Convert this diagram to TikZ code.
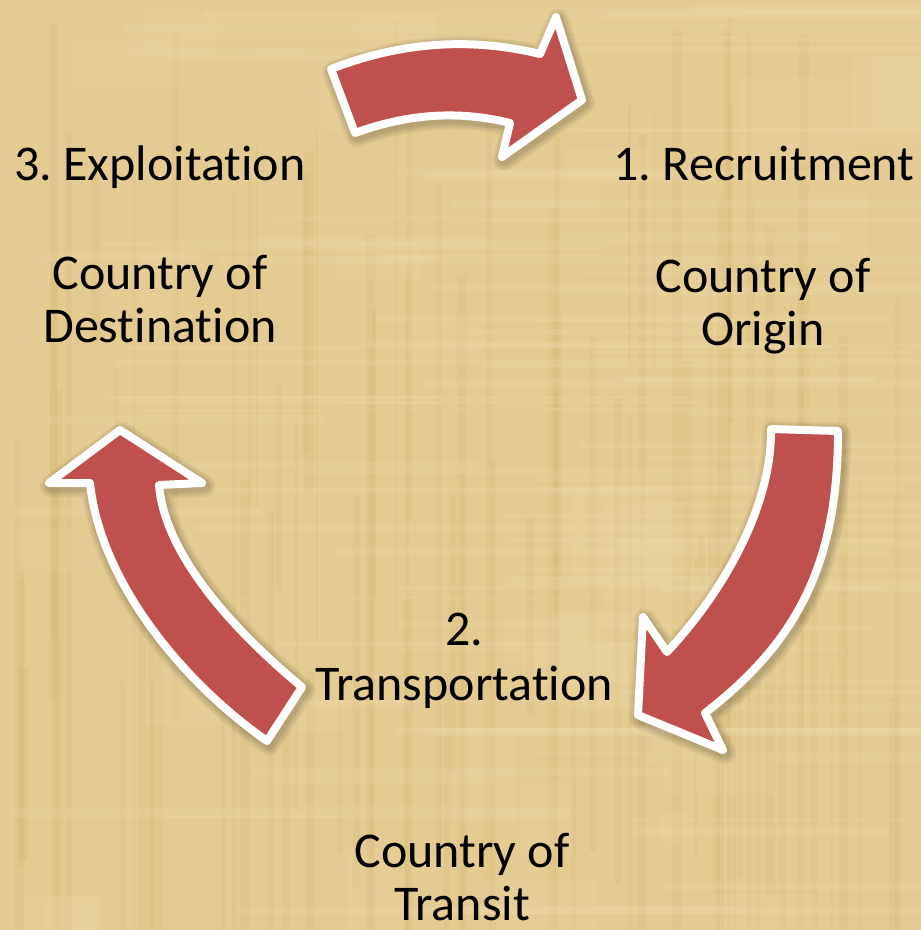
\documentclass[tikz,border=0pt]{standalone}
\usepackage{fontspec}
\setmainfont{Carlito}[Ligatures=CommonOff]
\frenchspacing
\definecolor{papyrus}{HTML}{E4CB91}
\definecolor{papyruslight}{HTML}{F0DCAE}
\definecolor{papyrusdark}{HTML}{D2B46E}
\definecolor{arrowred}{HTML}{C0504D}
\tikzset{
  softshadow/.style={preaction={draw=black, fill=black, opacity=0.05, line width=#1,
     line join=round, transform canvas={shift={(2pt,-3pt)}}}},
  cyclearrow/.style={softshadow=22pt, softshadow=18pt, softshadow=14pt, softshadow=11pt,
    fill=arrowred, draw=white, line width=8pt, line join=round},
  label/.style={font=\fontsize{50}{54}\selectfont, text=black, inner sep=0pt, anchor=base}
}
\begin{document}
\begin{tikzpicture}[x=1pt,y=-1pt]
\fill[papyrus] (0,0) rectangle (921,930);
\useasboundingbox (0,0) rectangle (921,930);
% papyrus fibres
\pgfmathsetseed{11}
\begin{scope}
\clip (0,0) rectangle (921,930);
\foreach \i in {1,...,90}{
  \pgfmathsetmacro\xx{random(0,921)}
  \pgfmathsetmacro\ww{random(2,10)}
  \pgfmathsetmacro\yy{random(0,700)}
  \pgfmathsetmacro\hh{random(150,930)}
  \fill[papyrusdark, opacity=0.18] (\xx,\yy) rectangle ++(\ww,\hh);
}
\foreach \i in {1,...,90}{
  \pgfmathsetmacro\yy{random(0,930)}
  \pgfmathsetmacro\hh{random(2,10)}
  \pgfmathsetmacro\xx{random(0,700)}
  \pgfmathsetmacro\ww{random(150,921)}
  \fill[papyruslight, opacity=0.22] (\xx,\yy) rectangle ++(\ww,\hh);
}
\foreach \i in {1,...,40}{
  \pgfmathsetmacro\xx{random(0,900)}
  \pgfmathsetmacro\yy{random(0,900)}
  \pgfmathsetmacro\ww{random(30,120)}
  \pgfmathsetmacro\hh{random(30,120)}
  \fill[papyruslight, opacity=0.15] (\xx,\yy) rectangle ++(\ww,\hh);
}
\end{scope}

% top arrow (Exploitation -> Recruitment)
\path[cyclearrow] (331,69) .. controls (401,42) and (470,37) .. (540,54)
  -- (556,17) -- (582,100) -- (502,157) -- (510,123)
  .. controls (458,110) and (407,114) .. (355,133) -- cycle;

% right arrow (Recruitment -> Transportation)
\path[cyclearrow] (771,429) -- (838,431)
  .. controls (838,560) and (800,640) .. (705,713)
  -- (723,750) -- (638,715) -- (643,617) -- (667,652)
  .. controls (725,590) and (772,505) .. (771,429) -- cycle;

% left arrow (Transportation -> Exploitation)
\path[cyclearrow] (120,430) -- (202,483) -- (159,485)
  .. controls (165,560) and (245,640) .. (302,687)
  -- (267,741)
  .. controls (180,680) and (100,580) .. (90,483)
  -- (49,483) -- cycle;

% labels
\node[label] (rec) at (764,180) {1. Recruitment};
\node[label] (orig1) at (763,292) {Country of};
\node[label] (orig2) at (763,345) {Origin};
\node[label] (exp) at (160,180) {3. Exploitation};
\node[label] (dest1) at (160,289) {Country of};
\node[label] (dest2) at (160,342) {Destination};
\node[label] (tr1) at (464,645) {2.};
\node[label] (tr2) at (464,700) {Transportation};
\node[label] (tn1) at (462,867) {Country of};
\node[label] (tn2) at (462,920) {Transit};
\end{tikzpicture}
\end{document}
